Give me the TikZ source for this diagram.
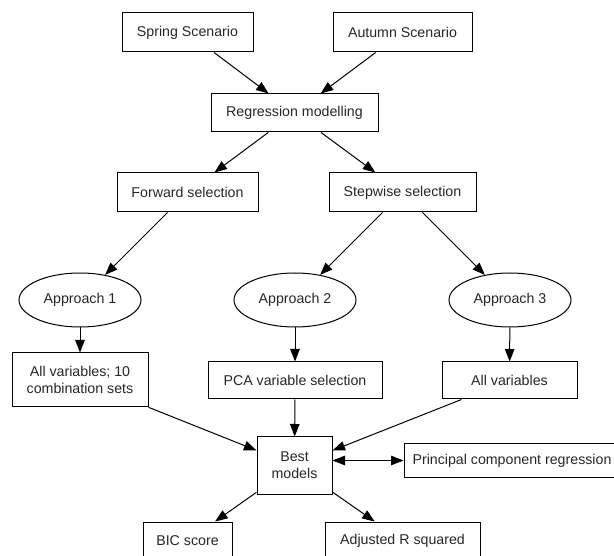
\documentclass[tikz,border=0pt]{standalone}
\usepackage{fontspec}
\setmainfont{Liberation Sans}
\usetikzlibrary{arrows.meta,shapes.geometric}
\begin{document}
\begin{tikzpicture}[x=1pt,y=-1pt,
    every node/.style={font=\fontsize{14.2}{17}\selectfont, text=black!85, inner sep=0pt},
    box/.style={draw, line width=1pt, align=center},
    oval/.style={draw, ellipse, line width=1pt, minimum width=122pt, minimum height=54pt},
    arr/.style={line width=1pt, -{Triangle[length=12.5pt,width=9.5pt]}},
    biarr/.style={line width=1pt, {Triangle[length=12.5pt,width=9.5pt]}-{Triangle[length=12.5pt,width=9.5pt]}}]
      \useasboundingbox (0,0) rectangle (614,556);
      \node[box, minimum width=131pt, minimum height=39pt] (spring) at (187.5,32.5){Spring Scenario};
      \node[box, minimum width=139pt, minimum height=39pt] (autumn) at (402.5,32.5){Autumn Scenario};
      \node[box, minimum width=167pt, minimum height=38pt] (reg) at (294.5,113){Regression modelling};
      \node[box, minimum width=141pt, minimum height=39pt] (fwd) at (187.5,192.5){Forward selection};
      \node[box, minimum width=147pt, minimum height=39pt] (step) at (402.5,192.5){Stepwise selection};

      \node[oval] (app1) at (80,300){Approach 1};
      \node[oval] (app2) at (295,300){Approach 2};
      \node[oval] (app3) at (510,300){Approach 3};

      \node[box, minimum width=136pt, minimum height=54pt] (allten) at (80,380){All variables; 10\\combination sets};
      \node[box, minimum width=174pt, minimum height=37pt] (pca) at (295,380.5){PCA variable selection};
      \node[box, minimum width=135pt, minimum height=37pt] (allvar) at (509.5,380.5){All variables};

      \node[box, minimum width=75pt, minimum height=57pt] (best) at (294.5,465.5){Best\\models};
      \node[box, minimum width=216pt, minimum height=33pt] (pcr) at (512,460.5){Principal component regression};

      \node[box, minimum width=89pt, minimum height=38pt] (bic) at (187.5,541){BIC score};
      \node[box, minimum width=155pt, minimum height=38pt] (adjr) at (402.5,541){Adjusted R squared};

      \draw[arr] (spring) -- (reg);
      \draw[arr] (autumn) -- (reg);
      \draw[arr] (reg) -- (fwd);
      \draw[arr] (reg) -- (step);
      \draw[arr] (fwd) -- (app1);
      \draw[arr] (step) -- (app2);
      \draw[arr] (step) -- (app3);
      \draw[arr] (app1) -- (allten);
      \draw[arr] (app2) -- (pca);
      \draw[arr] (app3) -- (allvar);
      \draw[arr] (allten) -- (best);
      \draw[arr] (pca) -- (best);
      \draw[arr] (allvar) -- (best);
      \draw[biarr] (best.east |- pcr.west) -- (pcr.west);
      \draw[arr] (best) -- (bic);
      \draw[arr] (best) -- (adjr);
    \end{tikzpicture}
\end{document}
